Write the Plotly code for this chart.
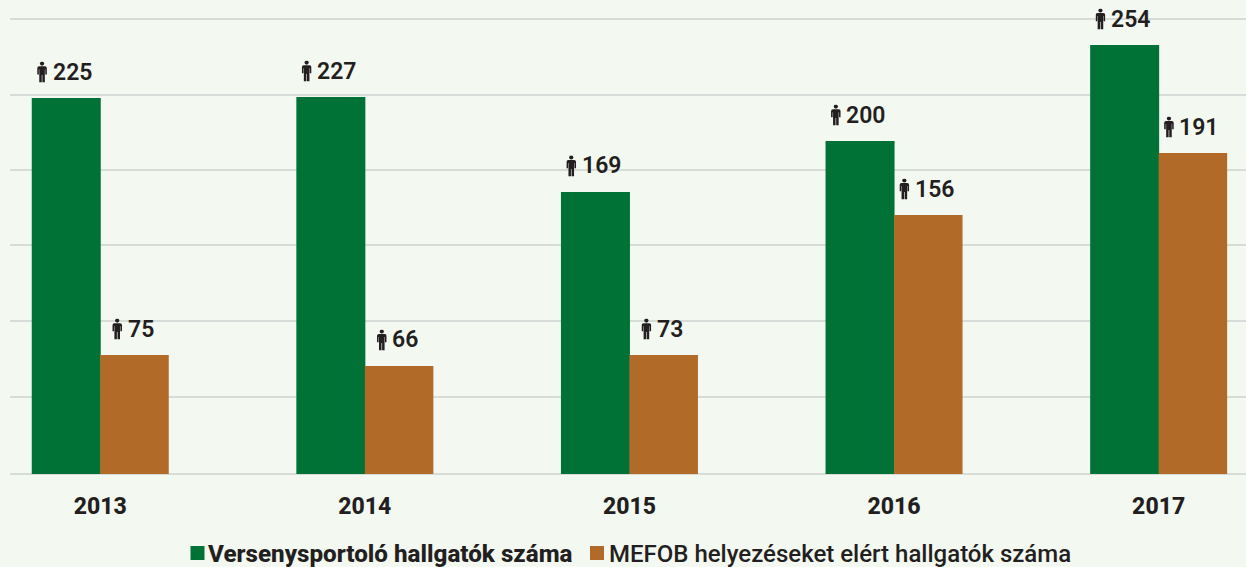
import base64
import plotly.graph_objects as go

years = ["2013", "2014", "2015", "2016", "2017"]
athletes_labels = [225, 227, 169, 200, 254]
medal_labels = [75, 66, 73, 156, 191]
# bar heights and gridline levels
athletes_heights = [223.1, 223.7, 167.4, 197.6, 254.6]
medal_heights = [70.6, 64.1, 70.6, 153.7, 190.5]
grid_levels = [0, 45.7, 90.8, 135.7, 180.4, 225.2, 270]
name_a = "Versenysportoló hallgatók száma"
name_b = "MEFOB helyezéseket elért hallgatók száma"

GREEN, ORANGE, INK, BG, GRID = "#007236", "#b26a28", "#231f20", "#f3f8f1", "#d8dcd8"
W, H = 1246, 567
PX_X, PX_Y = 264.6, 1.685
BW = 68.5 / PX_X
xs = list(range(len(years)))

svg = ('<svg xmlns="http://www.w3.org/2000/svg" viewBox="0 0 10 21" width="10" height="21">'
       '<circle cx="5" cy="2" r="2.1" fill="%s"/>'
       '<path d="M2.2 4.6H7.8Q9.8 4.6 9.8 6.6V12.8H8.2V7.6H7.8V21H5.3V13.5H4.7V21H2.2V7.6H1.8V12.8H.2V6.6Q.2 4.6 2.2 4.6Z" fill="%s"/></svg>' % (INK, INK))
icon = "data:image/svg+xml;base64," + base64.b64encode(svg.encode()).decode()

fig = go.Figure()
fig.add_bar(x=xs, y=athletes_heights, name=name_a, marker=dict(color=GREEN, line_width=0),
            width=BW + 0.5 / PX_X, offset=-BW, showlegend=False)
fig.add_bar(x=xs, y=medal_heights, name=name_b, marker=dict(color=ORANGE, line_width=0),
            width=BW, offset=0, showlegend=False)

annotations, images = [], []
for series, heights, cx in ((athletes_labels, athletes_heights, -BW / 2), (medal_labels, medal_heights, BW / 2)):
    for i, (lab, h) in enumerate(zip(series, heights)):
        tw = 13.3 * len(str(lab))
        x0 = i + cx
        annotations.append(dict(x=x0, y=h, text=str(lab), showarrow=False, xanchor="center", yanchor="middle",
                                xshift=6, yshift=26, font=dict(family="Roboto", size=23, color=INK, weight=600)))
        images.append(dict(source=icon, xref="x", yref="y", x=x0 + (7 - tw / 2 - 11) / PX_X, y=h + 26 / PX_Y,
                           sizex=10 / PX_X, sizey=21 / PX_Y, xanchor="center", yanchor="middle",
                           sizing="contain", layer="above"))

# legend row: key square + label
shapes = []
for name, color, key_x, text_x, size, weight in ((name_a, GREEN, 190.5, 205.5, 24.2, 800), (name_b, ORANGE, 590, 607, 24, 500)):
    shapes.append(dict(type="rect", xref="paper", yref="paper", line_width=0, fillcolor=color,
                       x0=(key_x - 10) / (W - 10), x1=(key_x + 14 - 10) / (W - 10),
                       y0=(474 - 560) / 474, y1=(474 - 546) / 474))
    annotations.append(dict(xref="paper", yref="paper", x=(text_x - 10) / (W - 10), y=(474 - 554) / 474,
                            xanchor="left", yanchor="middle", showarrow=False, text=name,
                            font=dict(family="Roboto", size=size, color=INK, weight=weight)))

fig.update_layout(
    width=W, height=H, margin=dict(l=10, r=0, t=0, b=93), showlegend=False,
    paper_bgcolor=BG, plot_bgcolor=BG, barmode="overlay", annotations=annotations, images=images, shapes=shapes,
    font=dict(family="Roboto", color=INK),
    xaxis=dict(range=[(10 - 100.25) / PX_X, (W - 100.25) / PX_X], tickmode="array", tickvals=xs, ticktext=years,
               showgrid=False, zeroline=False, ticks="", ticklabelstandoff=16,
               tickfont=dict(family="Roboto", size=23, color=INK, weight=800)),
    yaxis=dict(range=[0, 474 / PX_Y], tickmode="array", tickvals=grid_levels,
               showticklabels=False, showgrid=True, gridcolor=GRID, gridwidth=2,
               zeroline=True, zerolinecolor=GRID, zerolinewidth=2, layer="below traces"),
)
fig.write_html("out.html", config={"displayModeBar": False},
               post_script="document.body.style.margin='0';document.body.style.overflow='hidden';")
